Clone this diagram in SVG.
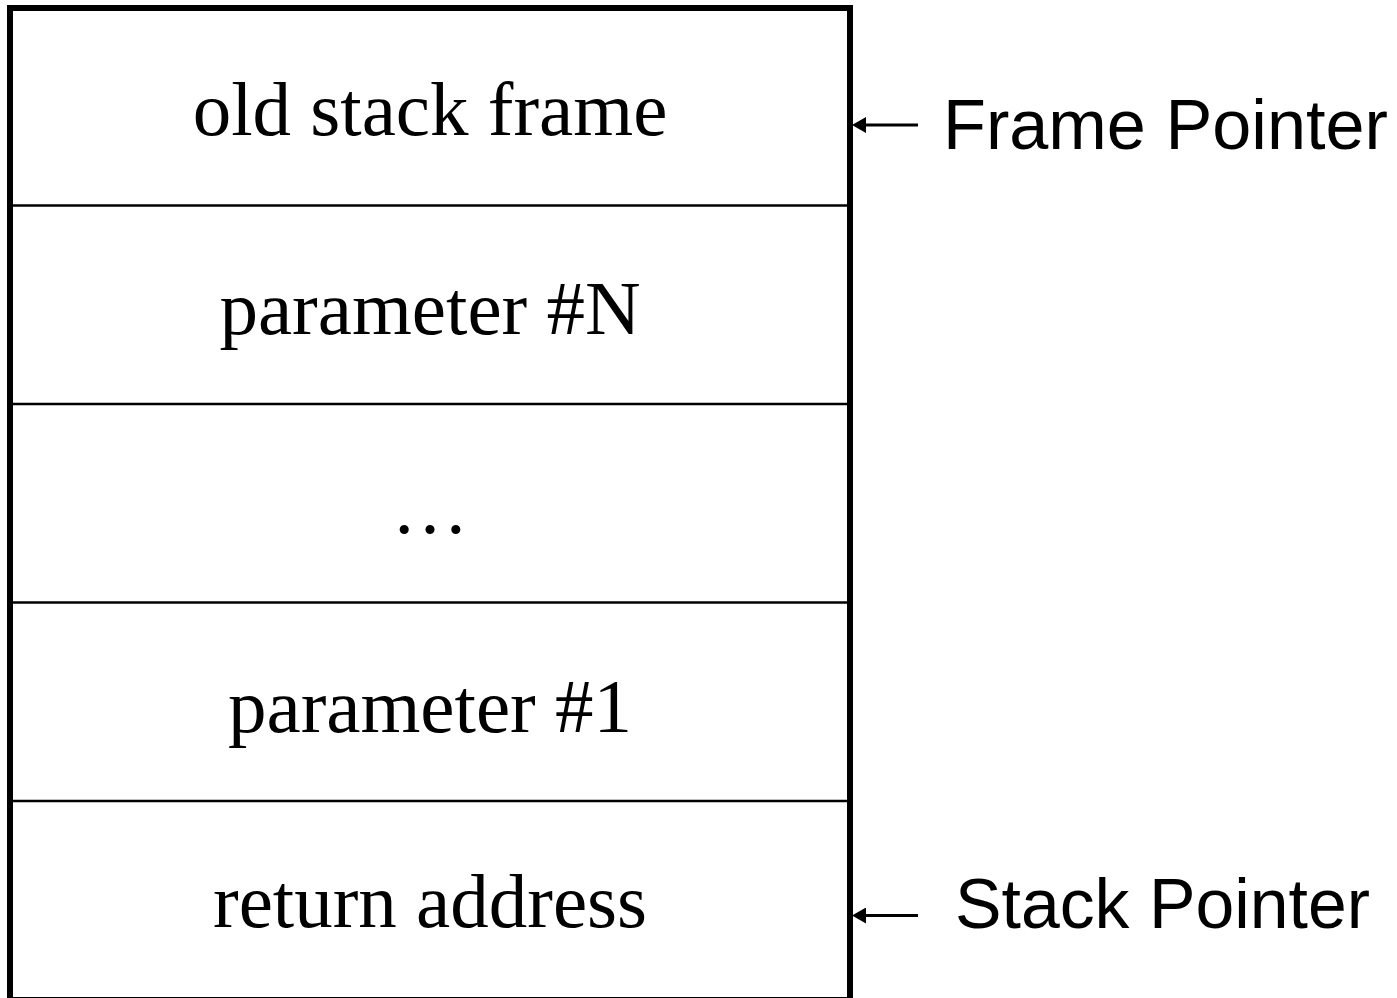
<svg xmlns="http://www.w3.org/2000/svg" width="1397" height="998" viewBox="0 0 1397 998">
<defs>
<style>
.box{fill:#fff;stroke:#000;stroke-width:6}
.div{stroke:#000;stroke-width:2.5}
.cell{font-family:"Liberation Serif","Times New Roman",serif;font-size:77px;fill:#000;text-anchor:middle}
.lbl{font-family:"Liberation Sans",Arial,sans-serif;font-size:71px;fill:#000}
.arr{stroke:#000;stroke-width:3;fill:none}
</style>
<marker id="ah" viewBox="0 0 10 10" refX="0" refY="5" markerWidth="14" markerHeight="16" markerUnits="userSpaceOnUse" orient="auto-start-reverse" preserveAspectRatio="none">
<path d="M0,0 L10,5 L0,10 z" fill="#000"/>
</marker>
</defs>
<rect width="1397" height="998" fill="#fff"/>
<g id="stack">
<rect class="box" x="10" y="8" width="840" height="992"/>
</g>
<g id="old-stack-frame">
<text class="cell" x="430" y="135">old stack frame</text>
</g>
<g id="parameter-N">
<line class="div" x1="10" y1="205.5" x2="850" y2="205.5"/>
<text class="cell" x="430" y="334">parameter #N</text>
</g>
<g id="ellipsis">
<line class="div" x1="10" y1="404" x2="850" y2="404"/>
<text class="cell" x="430" y="533">…</text>
</g>
<g id="parameter-1">
<line class="div" x1="10" y1="602.5" x2="850" y2="602.5"/>
<text class="cell" x="430" y="732">parameter #1</text>
</g>
<g id="return-address">
<line class="div" x1="10" y1="801" x2="850" y2="801"/>
<text class="cell" x="430" y="927">return address</text>
</g>
<g id="frame-pointer">
<text class="lbl" x="943" y="149" textLength="445" lengthAdjust="spacingAndGlyphs">Frame Pointer</text>
</g>
<g id="stack-pointer">
<text class="lbl" x="955" y="928" textLength="415" lengthAdjust="spacingAndGlyphs">Stack Pointer</text>
</g>
<g id="connectors">
<line class="arr" x1="918" y1="125" x2="866" y2="125" marker-end="url(#ah)"/>
<line class="arr" x1="918" y1="915.5" x2="866" y2="915.5" marker-end="url(#ah)"/>
</g>
</svg>
